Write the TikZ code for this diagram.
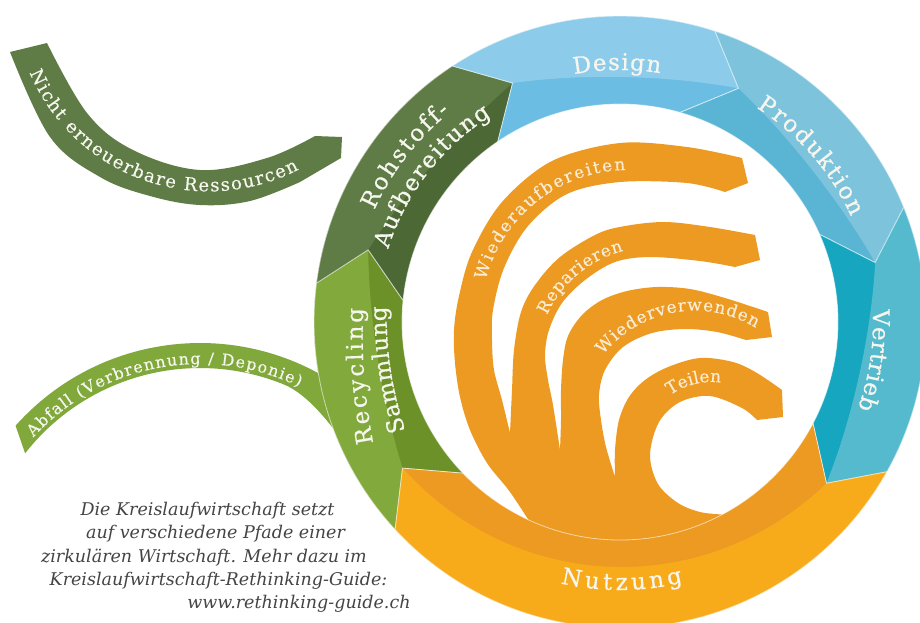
\documentclass[tikz,border=0pt]{standalone}
\usepackage{fontspec}
\setmainfont{DejaVu Serif}
\newfontface\labelface{DejaVu Serif}[FakeBold=0.6]
\newfontface\midface{DejaVu Serif}[FakeBold=0.35]
\usetikzlibrary{decorations.text}

% ring colours (outer light half / inner dark half)
\definecolor{desLight}{HTML}{8DCBEA}
\definecolor{desDark}{HTML}{6BBDE3}
\definecolor{proLight}{HTML}{7DC3DC}
\definecolor{proDark}{HTML}{5AB5D4}
\definecolor{verLight}{HTML}{55BACD}
\definecolor{verDark}{HTML}{17A6C0}
\definecolor{nutLight}{HTML}{F7AB1B}
\definecolor{nutDark}{HTML}{EC9A22}
\definecolor{recLight}{HTML}{82A93C}
\definecolor{recDark}{HTML}{6C9129}
\definecolor{rohLight}{HTML}{5F7C46}
\definecolor{rohDark}{HTML}{4C6935}
\definecolor{nichtGreen}{HTML}{5F7C46}
\definecolor{abfallGreen}{HTML}{80A83B}
\definecolor{spiralOrange}{HTML}{EC9A22}
\definecolor{ringText}{HTML}{F6F6EF}
\definecolor{spiralText}{HTML}{FAEBD2}
\definecolor{captionGray}{HTML}{444444}

\newcommand\ringfont{\labelface\fontsize{23}{26}\selectfont}
\newcommand\spiralfont{\midface\fontsize{17}{20}\selectfont}
\newcommand\bandfont{\midface\fontsize{18}{21}\selectfont}
\newcommand\wastefont{\midface\fontsize{16}{19}\selectfont}
\newcommand\capfont{\fontsize{17.5}{20}\selectfont\itshape}

\tikzset{
  declare function={
    dipu(\a,\s,\e)=((\a)-((\s)+(\e))/2)/(((\s)-(\e))/2);
    dip(\a,\s,\e)=245+17*dipu(\a,\s,\e)*dipu(\a,\s,\e);
  },
  segline/.style={draw=white, draw opacity=0.6, line width=0.8pt, line join=round},
  ringlabel/.style={decorate, decoration={text along path, text align={fit to path},
      text color=ringText, text={|\ringfont|#1}}},
  spirallabel/.style={decorate, decoration={text along path, text align={fit to path},
      text color=spiralText, text={|\spiralfont|#1}}},
  bandlabel/.style={decorate, decoration={text along path, text align={fit to path},
      text color=ringText, text={|\bandfont|#1}}},
  wastelabel/.style={decorate, decoration={text along path, text align={fit to path},
      text color=ringText, text={|\wastefont|#1}}},
  caption/.style={font=\capfont, text=captionGray, inner sep=0pt, anchor=base},
}

% one chevron segment of the ring:
% #1 #2 #3 start angles (outer, inner, notch), #4 #5 #6 end angles (outer, inner, tip),
% #7 inner colour, #8 outer colour
\newcommand\ringseg[8]{%
  \fill[#7] (#1:306) arc[start angle=#1, end angle=#4, radius=306]
     -- (#6:262) -- (#5:218) arc[start angle=#5, end angle=#2, radius=218]
     -- (#3:262) -- cycle;
  \fill[#8] (#1:306) arc[start angle=#1, end angle=#4, radius=306]
     -- (#6:262)
     -- plot[domain=#6:#3, samples=40] (\x:{dip(\x,#3,#6)})
     -- cycle;
  \path[segline] (#1:306) arc[start angle=#1, end angle=#4, radius=306]
     -- (#6:262) -- (#5:218) arc[start angle=#5, end angle=#2, radius=218]
     -- (#3:262) -- cycle;
}

\begin{document}
\begin{tikzpicture}[x=1pt,y=1pt]
\useasboundingbox (0,-622) rectangle (920,0);

% ---- band: non-renewable resources ----
\fill[nichtGreen]
  plot[smooth, tension=0.6] coordinates {(47,-43) (87,-113) (133,-150) (200,-170) (267,-158) (315,-136)}
  -- (342,-137) -- (341,-158)
  -- plot[smooth, tension=0.6] coordinates {(300,-182) (250,-201) (200,-205) (150,-196) (100,-177) (50,-137) (10,-52)}
  -- cycle;
\begin{scope}[shift={(209,3.6)}]
  \path[bandlabel={Nicht erneuerbare Ressourcen}]
    (-157:195) arc[start angle=-157, end angle=-62.5, radius=195];
\end{scope}

% ---- band: waste ----
\fill[abfallGreen] (15.6,-425.7) arc[start angle=138.3, end angle=55, radius=247]
  -- (365,-420) -- (360,-468)
  .. controls (340,-435) and (311,-395) .. (283.2,-384.2)
  arc[start angle=68, end angle=142, radius=222] -- cycle;
\begin{scope}[shift={(200,-590)}]
  \path[wastelabel={Abfall (Verbrennung / Deponie)}]
    (137.5:226) arc[start angle=137.5, end angle=64, radius=226];
\end{scope}

% ---- inner paths (spiral arcs merging into the use segment) ----
\fill[spiralOrange] (545.8,-550.3)
  -- plot[smooth, tension=0.55] coordinates {(533,-527) (510,-492) (487,-463) (470,-430) (460,-397) (455,-363) (454,-330) (459,-296) (472,-252) (502,-202) (552,-161) (620,-143) (687,-147) (742,-158)}
  -- (748,-183)
  -- plot[smooth, tension=0.55] coordinates {(725,-192) (687,-183) (620,-182) (567,-194) (528,-226) (504,-268) (493,-310) (492,-340) (494,-370) (502,-400) (510,-433)}
  -- plot[smooth, tension=0.55] coordinates {(510,-433) (512,-390) (514,-350) (521,-312) (535,-285) (560,-257) (597,-234) (625,-226) (665,-222) (710,-227) (755,-235)}
  -- (760,-260)
  -- plot[smooth, tension=0.55] coordinates {(735,-267) (700,-261) (650,-257) (615,-262) (585,-280) (562,-303) (549,-330) (545,-355) (548,-380) (553,-405) (560,-450)}
  -- plot[smooth, tension=0.55] coordinates {(560,-450) (561,-420) (561,-390) (563,-360) (568,-336) (582,-315) (602,-300) (627,-291) (657,-287) (690,-289) (725,-298) (768,-312)}
  -- (772,-337)
  -- plot[smooth, tension=0.55] coordinates {(746,-340) (717,-332) (685,-329) (652,-333) (623,-347) (605,-370) (599,-395) (601,-420) (606,-447) (615,-477)}
  -- plot[smooth, tension=0.55] coordinates {(615,-477) (615,-450) (619,-420) (629,-397) (645,-380) (668,-367) (700,-358) (733,-362) (757,-373) (782,-390)}
  -- (783,-417)
  -- plot[smooth, tension=0.55] coordinates {(757,-420) (742,-408) (710,-396) (680,-402) (659,-422) (650,-455) (658,-484) (678,-503) (700,-512) (722,-514.5)}
  -- (742,-551.6) -- (620,-572) -- cycle;

% ---- the ring ----
\begin{scope}[shift={(620,-322)}]
  \ringseg{222.7}{223.9}{213.9}{172.7}{174.3}{164.0}{recDark}{recLight}
  \ringseg{172.7}{174.3}{164.0}{123.2}{124.1}{114.2}{rohDark}{rohLight}
  \ringseg{123.2}{124.1}{114.2}{71.9}{74.0}{63.1}{desDark}{desLight}
  \ringseg{71.9}{74.0}{63.1}{22.0}{23.7}{13.1}{proDark}{proLight}
  \ringseg{22.0}{23.7}{13.1}{-29.3}{-27.7}{-38.0}{verDark}{verLight}
  \ringseg{-29.3}{-27.7}{-38.0}{-137.3}{-136.1}{-146.1}{nutDark}{nutLight}

  % ring labels
  \path[ringlabel={Design}] (100.5:252) arc[start angle=100.5, end angle=80.8, radius=252];
  \path[ringlabel={Produktion}] (57.5:254) arc[start angle=57.5, end angle=24.5, radius=254];
  \path[ringlabel={Vertrieb}] (2.8:253) arc[start angle=2.8, end angle=-20, radius=253];
  \path[ringlabel={Nutzung}] (-102.8:268) arc[start angle=-102.8, end angle=-76.4, radius=268];
  \path[ringlabel={Rohstoff-}] (155.5:270) arc[start angle=155.5, end angle=129, radius=270];
  \path[ringlabel={Aufbereitung}] (162.5:243) arc[start angle=162.5, end angle=122, radius=243];
\end{scope}
\path[ringlabel={Recycling}] (373.2,-443.1) to[bend left=6] (363.2,-308.2);
\path[ringlabel={Sammlung}] (405.2,-430.9) to[bend left=8] (386.3,-306.3);

% ---- labels on the inner paths ----
\begin{scope}[shift={(628,-317)}]
  \path[spirallabel={Wiederaufbereiten}] (165.5:147) arc[start angle=165.5, end angle=91, radius=147];
\end{scope}
\begin{scope}[shift={(652.5,-363.2)}]
  \path[spirallabel={Reparieren}] (155.5:116) arc[start angle=155.5, end angle=104.5, radius=116];
\end{scope}
\begin{scope}[shift={(694.7,-427.7)}]
  \path[spirallabel={Wiederverwenden}] (141.5:117) arc[start angle=141.5, end angle=58.5, radius=117];
\end{scope}
\begin{scope}[shift={(712,-455)}]
  \path[spirallabel={Teilen}] (125:73) arc[start angle=125, end angle=83, radius=73];
\end{scope}

% ---- caption ----
\node[caption] (cap1) at (207.5,-515) {Die Kreislaufwirtschaft setzt};
\node[caption] (cap2) at (215.5,-538) {auf verschiedene Pfade einer};
\node[caption] (cap3) at (204,-562) {zirkulären Wirtschaft. Mehr dazu im};
\node[caption] (cap4) at (218.5,-585) {Kreislaufwirtschaft-Rethinking-Guide:};
\node[caption] (cap5) at (299,-608) {www.rethinking-guide.ch};
\end{tikzpicture}
\end{document}
